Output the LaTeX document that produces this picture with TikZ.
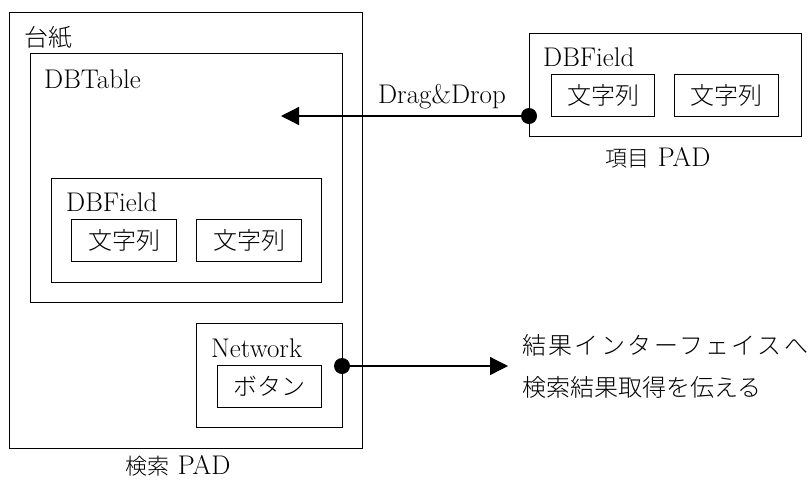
\documentclass[tikz,border=0pt]{standalone}
\usepackage{fontspec}
\newfontfamily\jp{Noto Sans CJK JP}[UprightFont={* Light}]
\newfontfamily\jpwide{Noto Sans CJK JP}[UprightFont={* Light},LetterSpace=10]
\usetikzlibrary{arrows.meta}
\begin{document}
\begin{tikzpicture}[x=1pt,y=-1pt,
  box/.style={draw,line width=1.3pt,anchor=north west,inner sep=0pt},
  lbl/.style={anchor=west,inner sep=0pt,font=\fontsize{27}{32}\selectfont},
  jlbl/.style={anchor=center,inner sep=0pt,font=\fontsize{24}{28}\selectfont\jp},
  conn/.style={line width=1.3pt,-{Triangle[length=18pt,width=18pt]}},
  dot/.style={circle,fill=black,inner sep=0pt,minimum size=16pt}]
\useasboundingbox (0,0) rectangle (808,480);
% search PAD
\node[box,minimum width=353pt,minimum height=436pt] (outer) at (9,12) {};
\node[lbl,font=\fontsize{24}{28}\selectfont\jp] (daishi) at (24,38) {台紙};
\node[box,minimum width=312pt,minimum height=249pt] (dbtable) at (30,53) {};
\node[lbl] (dbtablel) at (44,79) {DBTable};
\node[box,minimum width=270pt,minimum height=104pt] (dbfield) at (51,178) {};
\node[lbl] (dbfieldl) at (66,202) {DBField};
\node[box,minimum width=105pt,minimum height=42pt] (s1) at (71,219) {};
\node[jlbl] at (s1.center) {文字列};
\node[box,minimum width=105pt,minimum height=42pt] (s2) at (196,219) {};
\node[jlbl] at (s2.center) {文字列};
\node[box,minimum width=146pt,minimum height=104pt] (network) at (196,323) {};
\node[lbl] (networkl) at (211,348) {Network};
\node[box,minimum width=104pt,minimum height=42pt] (button) at (217,365) {};
\node[jlbl] at (button.center) {ボタン};
\node[lbl,anchor=center] (searchpad) at (178,466) {{\fontsize{22}{26}\selectfont\jp 検索} PAD};
% item PAD
\node[box,minimum width=272pt,minimum height=103pt] (item) at (529,33) {};
\node[lbl] (itemfl) at (543,57) {DBField};
\node[box,minimum width=103pt,minimum height=42pt] (s3) at (551,74) {};
\node[jlbl] at (s3.center) {文字列};
\node[box,minimum width=104pt,minimum height=42pt] (s4) at (674,74) {};
\node[jlbl] at (s4.center) {文字列};
\node[lbl,anchor=center] (itempad) at (658,158) {{\fontsize{22}{26}\selectfont\jp 項目} PAD};
% connectors
\node[dot] (d1) at (529,116) {};
\coordinate (t1) at (281,116);
\draw[conn] (d1.center) -- (t1);
\node[lbl,anchor=center] (dd) at (442,97) {Drag\&Drop};
\node[dot] (d2) at (342,366) {};
\coordinate (t2) at (508,366);
\draw[conn] (d2.center) -- (t2);
\node[lbl,anchor=west,font=\fontsize{24}{28}\selectfont\jpwide] (r1) at (522,345) {結果インターフェイスへ};
\node[lbl,anchor=west,font=\fontsize{24}{28}\selectfont\jp] (r2) at (522,387) {検索結果取得を伝える};
\end{tikzpicture}
\end{document}
